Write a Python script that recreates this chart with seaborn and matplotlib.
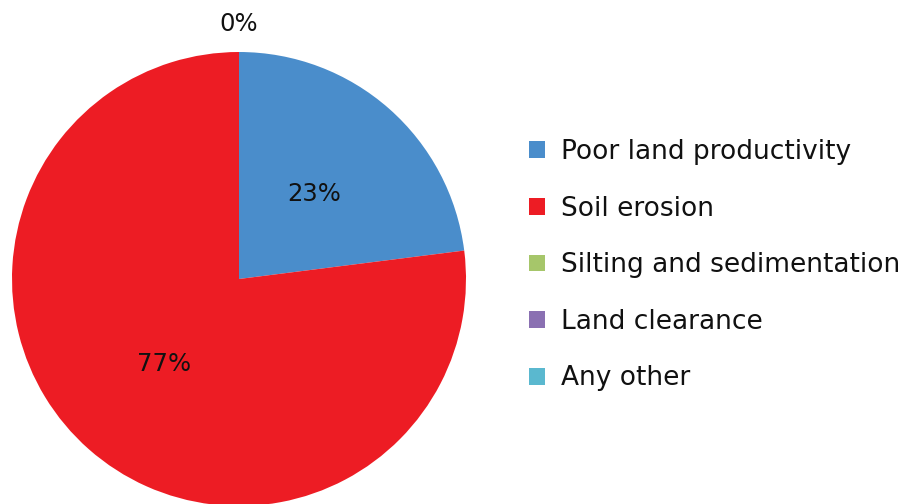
import numpy as np
import matplotlib
matplotlib.use("Agg")
import matplotlib.pyplot as plt
import seaborn as sns

categories = ["Poor land productivity", "Soil erosion", "Silting and sedimentation",
              "Land clearance", "Any other"]
values = [23, 77, 0, 0, 0]
colors = ["#4A8DCB", "#ED1C24", "#A6C66A", "#8A70B2", "#5AB8CF"]

sns.set_theme(style="white")
plt.rcParams['font.family'] = ['DejaVu Sans']

fig = plt.figure(figsize=(9.12, 5.04), dpi=100)
R = 227
cx, cy = 239, 504 - 279
ax = fig.add_axes([(cx - R) / 912, (cy - R) / 504, 2 * R / 912, 2 * R / 504])
wedges, _ = ax.pie(values, colors=colors, startangle=90, counterclock=False,
                   radius=1, wedgeprops=dict(linewidth=0))
ax.set_xlim(-1, 1)
ax.set_ylim(-1, 1)
ax.set_aspect("equal")
ax.axis("off")

total = sum(values)
zero_done = False
for w, v in zip(wedges, values):
    mid = np.deg2rad((w.theta1 + w.theta2) / 2)
    if v == 0:
        if zero_done:
            continue
        zero_done = True
        d = 1.125
    else:
        d = 0.5
    ax.text(d * np.cos(mid), d * np.sin(mid), f"{round(100 * v / total)}%",
            ha="center", va="center", fontsize=17.5, color="#111111", clip_on=False)

leg = fig.legend(wedges, categories, loc="upper left",
                 bbox_to_anchor=(529 / 912, 1 - 139 / 504), frameon=False,
                 fontsize=19, handlelength=0.6, handleheight=0.6,
                 handletextpad=0.6, labelspacing=1.16, borderpad=0, borderaxespad=0)
for t in leg.get_texts():
    t.set_color("#111111")

fig.savefig("out.png", dpi=100)
